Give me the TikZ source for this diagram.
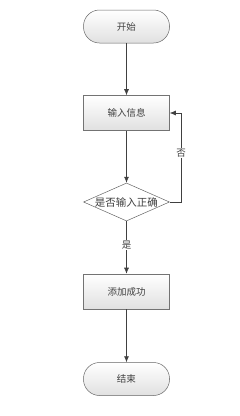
\documentclass[tikz,border=0pt]{standalone}
\usepackage{fontspec}
\newfontfamily\cjk{Noto Sans CJK SC}
\usetikzlibrary{arrows.meta,shapes.geometric}
\begin{document}
\begin{tikzpicture}[x=1pt,y=-1pt,
  every node/.style={font=\cjk\fontsize{9.5}{11}\selectfont, text=black!75},
  term/.style={draw=black!60, rounded corners=16pt, minimum width=86pt, minimum height=33pt, top color=white, bottom color=black!12, line width=0.5pt},
  proc/.style={draw=black!55, minimum width=86pt, minimum height=35pt, top color=white, bottom color=black!12, line width=0.6pt},
  dec/.style={draw=black!60, diamond, aspect=2.26, minimum width=86pt, minimum height=38pt, inner sep=0pt, fill=white, line width=0.5pt},
  conn/.style={draw=black!75, line width=0.6pt, -{Latex[length=6pt,width=5pt]}}]
\useasboundingbox (0,0) rectangle (240,416);
\node[term] (start) at (126.5,26.5) {开始};
\node[proc] (input) at (126.5,113) {输入信息};
\node[dec] (check) at (126.5,202) {};
\node[font=\cjk\fontsize{10.5}{12}\selectfont, inner sep=0pt] (checktext) at (check) {是否输入正确};
\node[proc] (add) at (126.5,291.5) {添加成功};
\node[term] (end) at (126.5,379) {结束};
\coordinate (c1) at (181,202);
\coordinate (c2) at (181,113);
\draw[conn] (start) -- (input);
\draw[conn] (input) -- (check);
\draw[conn] (check) -- node[fill=white, inner sep=1pt, pos=0.45] {是} (add);
\draw[conn] (add) -- (end);
\draw[conn] (check.east) -- (c1) -- node[fill=white, inner sep=1pt, pos=0.55] {否} (c2) -- (input.east);
\end{tikzpicture}
\end{document}
